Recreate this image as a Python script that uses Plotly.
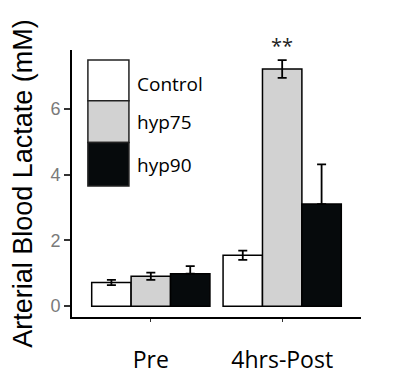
import plotly.graph_objects as go

categories = ["Pre", "4hrs-Post"]
series_names = ["Control", "hyp75", "hyp90"]
control_vals = [0.72, 1.55]
control_err = [0.08, 0.14]
hyp75_vals = [0.91, 7.22]
hyp75_err = [0.11, 0.27]
hyp90_vals = [0.99, 3.11]
hyp90_err = [0.23, 1.21]
colors = ["#ffffff", "#d2d2d2", "#060a0c"]
y_ticks = [0, 2, 4, 6]

FONT = "Open Sans"
AFONT = "Liberation Sans"
values = [control_vals, hyp75_vals, hyp90_vals]
errors = [control_err, hyp75_err, hyp90_err]
# lower whiskers of the black bars are hidden (black on black) in the original
lower_visible = [True, True, False]

fig = go.Figure()
for name, v, e, c, lv in zip(series_names, values, errors, colors, lower_visible):
    fig.add_trace(go.Bar(
        x=categories, y=v, name=name,
        marker=dict(color=c, line=dict(color="#000000", width=1.5)),
        error_y=dict(type="data", array=e,
                     arrayminus=e if lv else [0] * len(e),
                     symmetric=False, visible=True, color="#000000",
                     thickness=1.8, width=4.5),
        showlegend=False,
    ))

# custom legend (large boxes as in reference)
box_tops = [0.9625, 0.8101, 0.6536]
box_bots = [0.8101, 0.6536, 0.4906]
label_ys = [0.8708, 0.7285, 0.5711]
for name, c, t, b, ly in zip(series_names, colors, box_tops, box_bots, label_ys):
    fig.add_shape(type="rect", xref="paper", yref="paper",
                  x0=0.055, x1=0.197, y0=b, y1=t,
                  fillcolor=c, line=dict(color="#222222", width=1.5))
    fig.add_annotation(xref="paper", yref="paper", x=0.218, y=ly,
                       text=name, showarrow=False, xanchor="left",
                       yanchor="middle",
                       font=dict(family=FONT, size=19, color="#000000"))

fig.add_annotation(xref="x", yref="paper", x=categories[1], y=1.015,
                   text="**", showarrow=False, xanchor="center",
                   yanchor="middle",
                   font=dict(family=FONT, size=20, color="#222222"))

# page body has an 8px default margin, so margins are offset to compensate
fig.update_layout(
    width=400, height=386,
    margin=dict(l=64, r=47, t=42, b=77),
    paper_bgcolor="#ffffff", plot_bgcolor="#ffffff",
    barmode="group", bargap=0.1, bargroupgap=0,
    font=dict(family=FONT),
)
fig.update_xaxes(
    range=[-0.6, 1.6], showline=True, linecolor="#000000", linewidth=1.8,
    ticks="outside", ticklen=3, tickcolor="#333333", tickwidth=1,
    tickfont=dict(family=FONT, size=23, color="#000000"),
    ticklabelstandoff=18, showgrid=False, zeroline=False, automargin=False,
)
fig.update_yaxes(
    range=[-0.33, 7.8], showline=True, linecolor="#000000", linewidth=1.8,
    ticks="outside", ticklen=6, tickcolor="#333333", tickwidth=1.5,
    tickvals=y_ticks, ticktext=[str(t) for t in y_ticks],
    tickfont=dict(family=AFONT, size=18, color="#7a7a7a"),
    title=dict(text="Arterial Blood Lactate (mM)", standoff=16,
               font=dict(family=AFONT, size=27, color="#000000")),
    showgrid=False, zeroline=False, automargin=False,
)

fig.write_html("out.html")
